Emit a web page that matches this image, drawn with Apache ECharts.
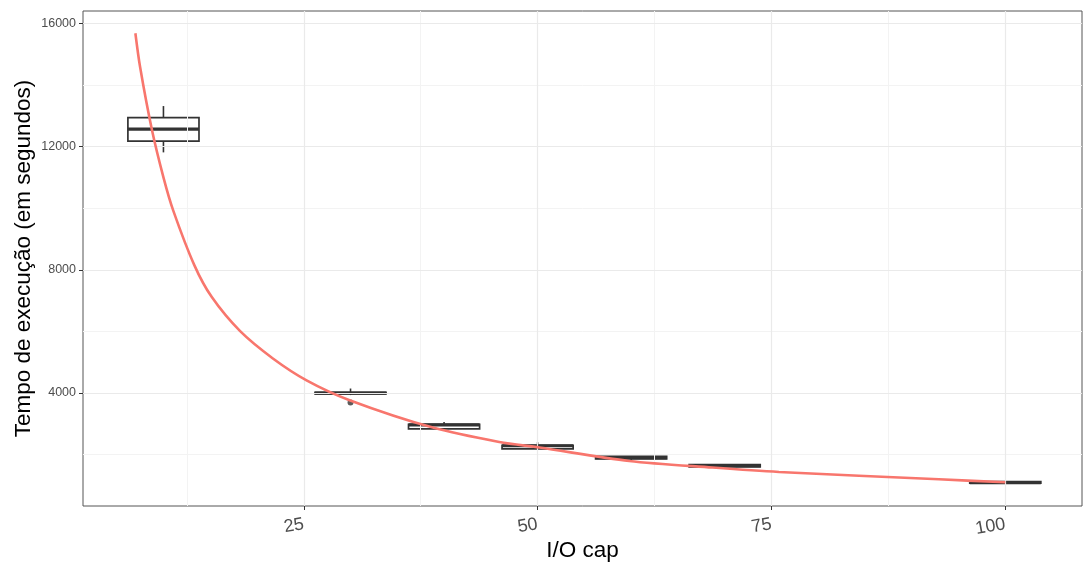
<!DOCTYPE html>
<html>
<head>
<meta charset="utf-8">
<script src="https://cdn.jsdelivr.net/npm/echarts@6/dist/echarts.min.js"></script>
<style>
  html, body { margin: 0; padding: 0; background: #ffffff; }
  #chart { width: 1083px; height: 562px; }
</style>
</head>
<body>
<div id="chart"></div>
<script>
// I/O cap levels and the five-number summaries of execution time (seconds)
const ioCaps   = [10, 30, 40, 50, 60, 70, 100];
const whiskLow = [11812, 3930, 2815, 2170, 1758, 1585, 1059];
const q1       = [12179, 3965, 2833, 2184, 1859, 1599, 1066];
const medians  = [12569, 3995, 2960, 2285, 1900, 1635, 1090];
const q3       = [12943, 4020, 2983, 2300, 1943, 1670, 1118];
const whiskHigh= [13316, 4143, 3058, 2398, 1955, 1690, 1130];

// points flagged as outliers
const outlierX = [30];
const outlierY = [3688];

// fitted trend curve
const fitX = [7.0, 7.5, 8.75, 10.0, 11.05, 13.3, 15.15, 18.2, 21.7, 25.3, 29.9, 38.8, 45.9, 50.2, 59.8, 68.7, 75.8, 92.9, 100];
const fitY = [15680, 14590, 12570, 11000, 9920, 8150, 7120, 6005, 5120, 4410, 3765, 2875, 2408, 2226, 1790, 1576, 1433, 1196, 1098];

// axis ticks and grid
const xTicks = [25, 50, 75, 100];
const xMinor = [12.5, 37.5, 62.5, 87.5];
const yTicks = [4000, 8000, 12000, 16000];
const yMinor = [2000, 6000, 10000, 14000];

const BOX_HALF = 3.8;
const INK = '#333333';
const FONT = 'Liberation Sans, Arial, sans-serif';

const boxData = ioCaps.map((x, i) => [x, whiskLow[i], q1[i], medians[i], q3[i], whiskHigh[i]]);
const fitData = fitX.map((x, i) => [x, fitY[i]]);
const outData = outlierX.map((x, i) => [x, outlierY[i]]);

function renderBox(params, api) {
  const x = api.value(0);
  const lo = api.value(1), b1 = api.value(2), md = api.value(3), b3 = api.value(4), hi = api.value(5);
  const pTopL = api.coord([x - BOX_HALF, b3]);
  const pBotR = api.coord([x + BOX_HALF, b1]);
  const pMedL = api.coord([x - BOX_HALF, md]);
  const pMedR = api.coord([x + BOX_HALF, md]);
  const pHi = api.coord([x, hi]);
  const pQ3 = api.coord([x, b3]);
  const pQ1 = api.coord([x, b1]);
  const pLo = api.coord([x, lo]);
  const line = { stroke: INK, lineWidth: 1.6 };
  return {
    type: 'group',
    children: [
      { type: 'line', shape: { x1: pHi[0], y1: pHi[1], x2: pQ3[0], y2: pQ3[1] }, style: line },
      { type: 'line', shape: { x1: pQ1[0], y1: pQ1[1], x2: pLo[0], y2: pLo[1] }, style: line },
      { type: 'rect', shape: { x: pTopL[0], y: pTopL[1], width: pBotR[0] - pTopL[0], height: pBotR[1] - pTopL[1] },
        style: { fill: '#ffffff', stroke: INK, lineWidth: 1.7 } },
      { type: 'line', shape: { x1: pMedL[0], y1: pMedL[1], x2: pMedR[0], y2: pMedR[1] },
        style: { stroke: INK, lineWidth: 3.2 } }
    ]
  };
}

function gridLines(values, axisKey, color, width) {
  return values.map(v => ({ [axisKey]: v, lineStyle: { color: color, width: width, type: 'solid' } }));
}

const chart = echarts.init(document.getElementById('chart'), null, { renderer: 'canvas' });
chart.setOption({
  animation: false,
  backgroundColor: '#ffffff',
  textStyle: { fontFamily: FONT },
  grid: {
    left: 83, right: 1, top: 11, bottom: 56,
    containLabel: false, outerBoundsMode: 'none',
    show: true, borderColor: '#555555', borderWidth: 1, backgroundColor: 'transparent'
  },
  xAxis: {
    type: 'value',
    min: 1.4, max: 108.2,
    name: 'I/O cap',
    nameLocation: 'middle',
    nameGap: 33,
    nameMoveOverlap: false,
    nameTextStyle: { fontSize: 22.5, color: '#000000', fontFamily: FONT },
    axisLine: { show: false },
    splitLine: { show: false },
    axisTick: { show: true, customValues: xTicks, length: 4, lineStyle: { color: INK, width: 1 } },
    axisLabel: {
      customValues: xTicks, rotate: 10, margin: 18,
      fontSize: 18, color: '#4D4D4D',
      formatter: v => String(v)
    }
  },
  yAxis: {
    type: 'value',
    min: 328, max: 16403,
    name: 'Tempo de execução (em segundos)',
    nameLocation: 'middle',
    nameGap: 48,
    nameMoveOverlap: false,
    nameTextStyle: { fontSize: 22.5, color: '#000000', fontFamily: FONT },
    axisLine: { show: false },
    splitLine: { show: false },
    axisTick: { show: true, customValues: yTicks, length: 4, lineStyle: { color: INK, width: 1 } },
    axisLabel: { customValues: yTicks, margin: 7, fontSize: 12.5, color: '#4D4D4D', formatter: v => String(v) }
  },
  series: [
    {
      // background grid
      type: 'line', data: [], silent: true, z: 1,
      markLine: {
        silent: true, symbol: 'none', label: { show: false }, animation: false,
        data: [].concat(
          gridLines(xMinor, 'xAxis', '#F3F3F3', 1),
          gridLines(yMinor, 'yAxis', '#F3F3F3', 1),
          gridLines(xTicks, 'xAxis', '#EAEAEA', 1.2),
          gridLines(yTicks, 'yAxis', '#EAEAEA', 1.2)
        )
      }
    },
    {
      type: 'custom', z: 3,
      renderItem: renderBox,
      encode: { x: 0, y: [1, 2, 3, 4, 5] },
      data: boxData
    },
    {
      type: 'scatter', z: 4,
      symbol: 'circle', symbolSize: 6,
      itemStyle: { color: INK },
      data: outData
    },
    {
      type: 'line', z: 5,
      data: fitData,
      smooth: 0.3,
      showSymbol: false,
      lineStyle: { color: '#F8766D', width: 2.6 }
    }
  ]
});
</script>
</body>
</html>
